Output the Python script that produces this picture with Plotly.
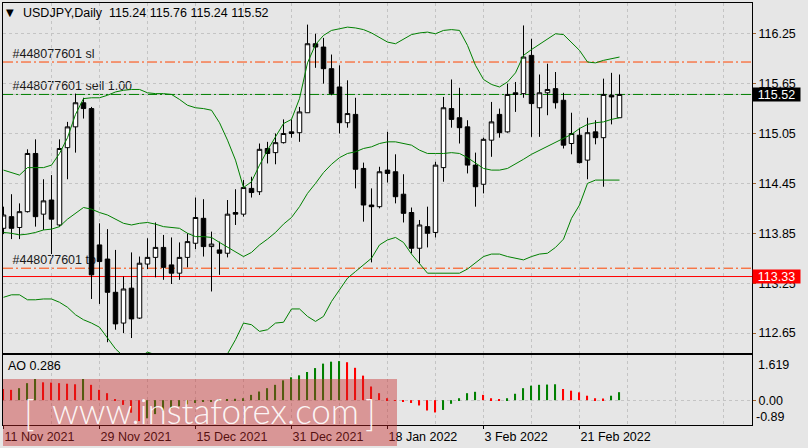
import plotly.graph_objects as go

# ---------------- data ----------------
tick_idx = [0, 12, 24, 36, 48, 60, 72]
tick_text = ["11 Nov 2021", "29 Nov 2021", "15 Dec 2021", "31 Dec 2021",
             "18 Jan 2022", "3 Feb 2022", "21 Feb 2022"]

open_ = [113.91, 114.05, 113.92, 114.11, 114.81, 114.08, 114.25, 113.95, 114.88, 115.13,
         115.42, 115.35, 113.71, 113.54, 113.14, 112.77, 113.19, 112.83, 113.48, 113.56,
         113.68, 113.47, 113.37, 113.56, 113.73, 114.03, 113.69, 113.65, 113.61, 114.10,
         114.08, 114.39, 114.35, 114.87, 114.82, 114.94, 115.07, 115.06, 115.30, 116.13,
         116.09, 115.83, 115.61, 115.18, 115.28, 114.63, 114.19, 114.17, 114.61, 114.59,
         114.32, 114.10, 113.67, 113.93, 113.86, 114.64, 115.35, 115.24, 115.13, 114.67,
         114.44, 114.97, 115.28, 115.07, 115.54, 115.53, 115.99, 115.36, 115.54, 115.59,
         115.45, 114.93, 115.03, 114.73, 115.07, 115.00, 115.51, 115.24]
high = [114.17, 114.32, 114.21, 114.86, 114.98, 114.50, 114.55, 114.98, 115.19, 115.53,
        115.48, 115.37, 113.97, 113.90, 113.65, 113.33, 113.62, 113.57, 113.79, 113.98,
        113.83, 113.80, 113.74, 113.85, 114.28, 114.26, 113.87, 113.75, 114.25, 114.38,
        114.49, 114.53, 114.93, 114.95, 115.05, 115.22, 115.22, 115.37, 116.36, 116.25,
        116.20, 116.00, 115.87, 115.69, 115.48, 114.70, 114.39, 114.65, 115.07, 114.80,
        114.56, 114.16, 114.01, 114.17, 114.71, 115.49, 115.70, 115.60, 115.21, 114.82,
        115.00, 115.43, 115.35, 115.65, 115.67, 116.35, 116.19, 115.76, 115.89, 115.79,
        115.54, 115.30, 115.12, 115.24, 115.21, 115.71, 115.78, 115.76]
low = [113.84, 113.78, 113.78, 114.10, 113.93, 113.89, 113.60, 113.93, 114.50, 114.82,
       115.23, 113.06, 113.00, 112.54, 112.69, 112.65, 112.59, 112.82, 113.42, 113.32,
       113.29, 113.24, 113.29, 113.44, 113.66, 113.57, 113.15, 113.35, 113.56, 113.95,
       114.05, 114.28, 114.31, 114.69, 114.68, 114.93, 115.00, 114.95, 115.30, 115.84,
       115.65, 115.51, 115.05, 115.12, 114.39, 113.99, 113.50, 114.15, 114.46, 114.21,
       113.98, 113.61, 113.49, 113.68, 113.80, 114.47, 115.12, 114.93, 114.57, 114.17,
       114.33, 114.77, 115.00, 115.06, 115.31, 115.48, 115.01, 115.01, 115.27, 115.35,
       114.87, 114.80, 114.69, 114.50, 114.92, 114.41, 115.16, 115.24]
close = [114.07, 113.91, 114.11, 114.81, 114.05, 114.24, 114.02, 114.87, 115.13, 115.42,
         115.35, 113.35, 113.51, 113.14, 112.76, 113.18, 112.82, 113.49, 113.56, 113.68,
         113.44, 113.37, 113.56, 113.75, 114.04, 113.69, 113.72, 113.61, 114.08, 114.08,
         114.40, 114.34, 114.86, 114.81, 114.94, 115.05, 115.05, 115.31, 116.13, 116.09,
         115.83, 115.53, 115.18, 115.29, 114.62, 114.19, 114.17, 114.59, 114.57, 114.29,
         114.09, 113.67, 113.95, 113.85, 114.67, 115.36, 115.22, 115.12, 114.67, 114.41,
         114.98, 115.19, 115.06, 115.52, 115.52, 115.97, 115.41, 115.54, 115.58, 115.42,
         114.91, 115.05, 114.70, 115.06, 115.00, 115.52, 115.49, 115.52]

bb_upper = [114.61, 114.58, 114.55, 114.64, 114.64, 114.64, 114.67, 114.81, 115.00, 115.28,
            115.47, 115.48, 115.48, 115.51, 115.55, 115.57, 115.58, 115.58, 115.54, 115.53,
            115.53, 115.52, 115.46, 115.39, 115.36, 115.35, 115.33, 115.18, 114.97, 114.73,
            114.40, 114.47, 114.67, 114.85, 115.01, 115.17, 115.22, 115.47, 115.90, 116.12,
            116.23, 116.29, 116.31, 116.33, 116.32, 116.30, 116.26, 116.20, 116.15, 116.13,
            116.19, 116.24, 116.26, 116.27, 116.25, 116.29, 116.30, 116.29, 116.11, 115.87,
            115.70, 115.64, 115.61, 115.67, 115.78, 115.99, 116.06, 116.12, 116.19, 116.25,
            116.24, 116.14, 116.05, 115.91, 115.90, 115.93, 115.95, 115.97]
bb_middle = [113.86, 113.85, 113.83, 113.84, 113.86, 113.89, 113.90, 113.93, 114.02, 114.09,
             114.16, 114.14, 114.10, 114.07, 114.02, 113.97, 113.95, 113.97, 113.98, 113.96,
             113.93, 113.92, 113.91, 113.85, 113.81, 113.81, 113.80, 113.74, 113.68, 113.62,
             113.57, 113.62, 113.71, 113.78, 113.86, 113.96, 114.04, 114.17, 114.33, 114.45,
             114.58, 114.68, 114.76, 114.81, 114.83, 114.87, 114.89, 114.93, 114.95, 114.95,
             114.93, 114.91, 114.85, 114.81, 114.81, 114.81, 114.82, 114.81, 114.76, 114.69,
             114.63, 114.61, 114.61, 114.63, 114.68, 114.74, 114.80, 114.85, 114.89, 114.95,
             114.99, 115.04, 115.11, 115.16, 115.18, 115.19, 115.22, 115.24]
bb_lower = [113.08, 113.11, 113.11, 113.05, 113.05, 113.06, 113.06, 113.02, 112.96, 112.87,
            112.81, 112.77, 112.72, 112.59, 112.46, 112.37, 112.31, 112.36, 112.42, 112.39,
            112.34, 112.33, 112.36, 112.31, 112.27, 112.28, 112.28, 112.30, 112.40, 112.57,
            112.77, 112.75, 112.67, 112.69, 112.77, 112.78, 112.94, 112.94, 112.85, 112.79,
            112.85, 113.03, 113.17, 113.31, 113.39, 113.47, 113.55, 113.71, 113.77, 113.80,
            113.74, 113.60, 113.48, 113.37, 113.37, 113.37, 113.37, 113.37, 113.42, 113.49,
            113.57, 113.60, 113.60, 113.57, 113.55, 113.53, 113.57, 113.60, 113.61, 113.68,
            113.78, 114.03, 114.19, 114.45, 114.49, 114.49, 114.49, 114.49]

ao = [0.40, 0.37, 0.43, 0.61, 0.76, 0.64, 0.63, 0.61, 0.59, 0.57,
      0.76, 0.55, 0.37, 0.25, 0.01, -0.17, -0.45, -0.75, -0.65, -0.50,
      -0.38, -0.30, -0.22, -0.15, -0.10, -0.06, -0.03, 0.01, 0.03, 0.05,
      0.07, 0.19, 0.31, 0.43, 0.55, 0.71, 0.82, 0.89, 1.01, 1.15,
      1.31, 1.38, 1.40, 1.36, 1.16, 0.88, 0.49, 0.25, 0.07, -0.02,
      -0.06, -0.10, -0.19, -0.37, -0.44, -0.35, -0.13, 0.07, 0.25, 0.30,
      0.19, 0.07, 0.04, 0.07, 0.23, 0.43, 0.52, 0.55, 0.56, 0.57,
      0.40, 0.34, 0.28, 0.16, 0.07, 0.06, 0.16, 0.286]

price_ticks = [112.65, 113.25, 113.85, 114.45, 115.05, 115.65, 116.25]
bid_price = 115.52
level_price = 113.33
sl_price = 115.91
tp_price = 113.43
order_id = "#448077601"
symbol_title = "USDJPY,Daily"
ao_max, ao_min = 1.619, -0.89

# ---------------- layout helpers ----------------
W, H = 808, 448
L, R, T, B = 3, 56, 3, 23
PW, PH = W - L - R, H - T - B


def px(x):
    return (x - L) / PW


def py(y):
    return (H - B - y) / PH


FONT = "Liberation Sans, Arial, sans-serif"
BG = "#e6e6e6"
GRID = "#c4c4c4"
x = list(range(len(close)))

fig = go.Figure()

fig.add_trace(go.Candlestick(
    x=x, open=open_, high=high, low=low, close=close,
    increasing=dict(line=dict(color="black", width=1), fillcolor="white"),
    decreasing=dict(line=dict(color="black", width=1), fillcolor="black"),
    whiskerwidth=0, xaxis="x", yaxis="y", showlegend=False, hoverinfo="skip"))

for band in (bb_upper, bb_middle, bb_lower):
    fig.add_trace(go.Scatter(x=x, y=band, mode="lines", line=dict(color="#008000", width=1),
                             xaxis="x", yaxis="y", showlegend=False, hoverinfo="skip"))

ao_colors = ["#ff0000"] + ["#008000" if ao[i] > ao[i - 1] else "#ff0000" for i in range(1, len(ao))]
fig.add_trace(go.Bar(x=x, y=ao, marker=dict(color=ao_colors, line=dict(width=0)), width=0.14,
                     xaxis="x2", yaxis="y2", showlegend=False, hoverinfo="skip"))

xr = [(L - 3.5) / 8, (L + PW - 3.5) / 8]
grid_minor = dict(tickmode="array", tickvals=list(range(0, 96, 6)), showgrid=True,
                  gridcolor=GRID, griddash="3px,3px", gridwidth=1, ticklen=0)

main_bottom = py(353)
sub_top = py(355)

fig.update_layout(
    width=W, height=H, autosize=False,
    margin=dict(l=L, r=R, t=T, b=B, pad=0),
    paper_bgcolor=BG, plot_bgcolor=BG,
    boxgap=0.3, boxgroupgap=0.2,
    showlegend=False, hovermode=False,
    font=dict(family=FONT, size=12.5, color="black"),
    xaxis=dict(domain=[0, 1], anchor="y", range=xr, tickmode="array", tickvals=tick_idx,
               showticklabels=False, showgrid=True, gridcolor=GRID, griddash="3px,3px",
               minor=grid_minor, showline=True, mirror=True, linecolor="black", linewidth=1,
               zeroline=False, rangeslider=dict(visible=False), automargin=False, ticks=""),
    yaxis=dict(domain=[main_bottom, 1], anchor="x", side="right", range=[112.41, 116.62],
               tickmode="array", tickvals=price_ticks, ticktext=[f"{v:.2f}" for v in price_ticks],
               showgrid=True, gridcolor=GRID, griddash="3px,3px", zeroline=False,
               showline=True, mirror=True, linecolor="black", linewidth=1,
               ticks="outside", ticklen=3, tickcolor="#a0602a", automargin=False,
               tickfont=dict(family=FONT, size=12.5, color="black")),
    xaxis2=dict(domain=[0, 1], anchor="y2", range=xr, tickmode="array", tickvals=tick_idx,
                ticktext=tick_text, ticklabelposition="outside right",
                showgrid=True, gridcolor=GRID, griddash="3px,3px", minor=grid_minor,
                showline=True, mirror=True, linecolor="black", linewidth=1, zeroline=False,
                ticks="outside", ticklen=3, tickcolor="black", automargin=False,
                tickfont=dict(family=FONT, size=12.5, color="black")),
    yaxis2=dict(domain=[0, sub_top], anchor="x2", side="right", range=[ao_min, ao_max],
                tickmode="array", tickvals=[0], ticktext=["0.00"], showgrid=True,
                gridcolor=GRID, griddash="3px,3px", zeroline=False,
                showline=True, mirror=True, linecolor="black", linewidth=1,
                ticks="outside", ticklen=3, tickcolor="#a0602a", automargin=False,
                tickfont=dict(family=FONT, size=12.5, color="black")),
)

dashdot = "10px,3px,2px,3px"
shapes = [
    dict(type="line", xref="paper", yref="y", x0=0, x1=1, y0=bid_price, y1=bid_price,
         line=dict(color="#c0c0c0", width=1), layer="between"),
    dict(type="line", xref="paper", yref="y", x0=0, x1=1, y0=bid_price, y1=bid_price,
         line=dict(color="#008000", width=1, dash=dashdot), layer="between"),
    dict(type="line", xref="paper", yref="y", x0=0, x1=1, y0=sl_price, y1=sl_price,
         line=dict(color="#ff4500", width=1, dash=dashdot), layer="between"),
    dict(type="line", xref="paper", yref="y", x0=0, x1=1, y0=tp_price, y1=tp_price,
         line=dict(color="#ff4500", width=1, dash=dashdot), layer="between"),
    dict(type="line", xref="paper", yref="y", x0=0, x1=1, y0=level_price, y1=level_price,
         line=dict(color="#ff0000", width=1), layer="between"),
]
for text, price in ((f"{order_id} sl", sl_price), (f"{order_id} sell 1.00", bid_price),
                    (f"{order_id} tp", tp_price)):
    shapes.append(dict(type="line", xref="paper", yref="y", x0=px(12.5), x1=px(300),
                       y0=price, y1=price, line=dict(color="rgba(0,0,0,0)", width=0),
                       layer="between",
                       label=dict(text=text, textposition="start", yanchor="bottom", padding=3,
                                  font=dict(family=FONT, size=12.5, color="#1a1a1a"))))
# watermark panel
shapes.append(dict(type="rect", xref="paper", yref="paper", x0=px(3), x1=px(397),
                   y0=py(446), y1=py(379), fillcolor="rgba(200,40,40,0.42)",
                   line=dict(width=0), layer="above"))
fig.update_layout(shapes=shapes)

WM = "rgba(255,255,255,0.92)"
ann = [
    dict(text="\u25bc", x=px(10), y=py(12.5), xref="paper", yref="paper", showarrow=False,
         xanchor="center", yanchor="middle", font=dict(family="DejaVu Sans", size=10, color="black")),
    dict(text=f"{symbol_title}\u00a0\u00a0{open_[-1]:.2f} {high[-1]:.2f} {low[-1]:.2f} {close[-1]:.2f}",
         x=px(21), y=py(12.7), xref="paper", yref="paper", showarrow=False,
         xanchor="left", yanchor="middle", font=dict(family=FONT, size=12.5, color="black")),
    dict(text=f"AO {ao[-1]:.3f}", x=px(6), y=py(366), xref="paper", yref="paper",
         showarrow=False, xanchor="left", yanchor="middle",
         font=dict(family=FONT, size=12.5, color="black")),
    dict(text=f"{bid_price:.2f}", x=1, y=bid_price, xref="paper", yref="y", showarrow=False,
         xanchor="left", yanchor="middle", bgcolor="black", width=45, height=11, borderpad=1,
         align="center", font=dict(family=FONT, size=12.5, color="white")),
    dict(text=f"{level_price:.2f}", x=1, y=level_price, xref="paper", yref="y", showarrow=False,
         xanchor="left", yanchor="middle", bgcolor="#ff0000", width=45, height=11, borderpad=1,
         align="center", font=dict(family=FONT, size=12.5, color="white")),
    dict(text=f"{ao_max:.3f}", x=px(756), y=py(365), xref="paper", yref="paper", showarrow=False,
         xanchor="left", yanchor="middle", font=dict(family=FONT, size=12.5, color="black")),
    dict(text=f"{ao_min:.2f}", x=px(754), y=py(416.7), xref="paper", yref="paper", showarrow=False,
         xanchor="left", yanchor="middle", font=dict(family=FONT, size=12.5, color="black")),
    # watermark text
    dict(text="[", x=px(29), y=py(412), xref="paper", yref="paper", showarrow=False,
         xanchor="center", yanchor="middle",
         font=dict(family="Lato", size=36, weight=300, color=WM)),
    dict(text="www.instaforex.com", x=px(206), y=py(410), xref="paper", yref="paper",
         showarrow=False, xanchor="center", yanchor="middle",
         font=dict(family="Lato", size=35, weight=300, color=WM)),
    dict(text="]", x=px(370), y=py(412), xref="paper", yref="paper", showarrow=False,
         xanchor="center", yanchor="middle",
         font=dict(family="Lato", size=36, weight=300, color=WM)),
]
fig.update_layout(annotations=ann)

fig.write_html("out.html", config={"displayModeBar": False},
               post_script="document.body.style.margin='0';document.body.style.padding='0';")
